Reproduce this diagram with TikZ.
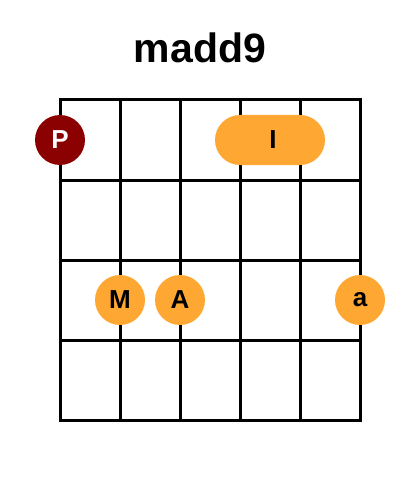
\documentclass[tikz,border=0pt]{standalone}
\usepackage{fontspec}
\setmainfont{Liberation Sans}
\definecolor{fingerorange}{HTML}{FFA733}
\definecolor{thumbred}{HTML}{8B0000}
\usetikzlibrary{shapes.misc}
\tikzset{
  gridline/.style={line width=3pt, black, line cap=rect},
  finger/.style={circle, fill=fingerorange, minimum size=50pt, inner sep=0pt, font=\fontsize{26}{26}\selectfont\bfseries, text=black},
  thumb/.style={circle, fill=thumbred, minimum size=50pt, inner sep=0pt, font=\fontsize{26}{26}\selectfont\bfseries, text=white},
  barre/.style={rounded rectangle, fill=fingerorange, minimum width=110pt, minimum height=50pt, inner sep=0pt, font=\fontsize{26}{26}\selectfont\bfseries, text=black},
  titletext/.style={font=\fontsize{41}{45}\selectfont\bfseries}
}
\begin{document}
\begin{tikzpicture}[x=1pt,y=-1pt]
\useasboundingbox (0,0) rectangle (400,500);
\node[titletext] (title) at (200,48) {madd9};
\foreach \i in {0,...,5} {
  \draw[gridline] (60+60*\i,100) coordinate (t\i) -- (60+60*\i,420) coordinate (b\i);
}
\foreach \j in {0,...,4} {
  \draw[gridline] (60,100+80*\j) coordinate (l\j) -- (360,100+80*\j) coordinate (r\j);
}
\node[thumb] (P) at (60,140) {P};
\node[barre] (I) at (270,140) {\hspace*{6pt}I};
\node[finger] (M) at (120,300) {M};
\node[finger] (A) at (180,300) {A};
\node[finger] (a) at (360,300) {a};
\end{tikzpicture}
\end{document}
